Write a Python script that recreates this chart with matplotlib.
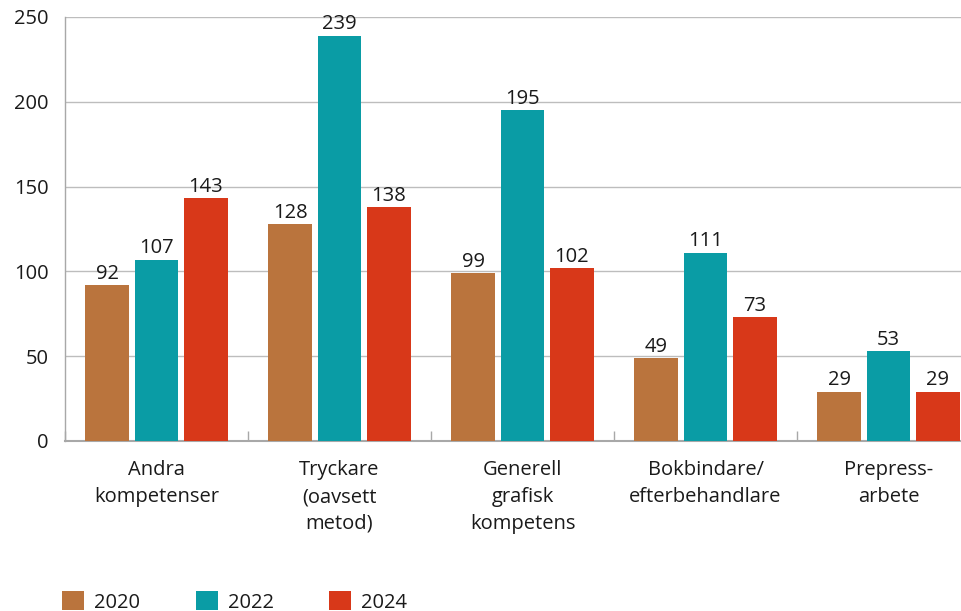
import matplotlib
matplotlib.use("Agg")
import matplotlib.pyplot as plt
import numpy as np

categories = ["Andra\nkompetenser", "Tryckare\n(oavsett\nmetod)", "Generell\ngrafisk\nkompetens",
              "Bokbindare/\nefterbehandlare", "Prepress-\narbete"]
years = ["2020", "2022", "2024"]
v2020 = [92, 128, 99, 49, 29]
v2022 = [107, 239, 195, 111, 53]
v2024 = [143, 138, 102, 73, 29]
colors = ["#BA743D", "#0A9CA5", "#D83819"]

plt.rcParams['font.family'] = ['Open Sans', 'DejaVu Sans']
txt = "#1a1a1a"
fs = 14.5

fig = plt.figure(figsize=(9.62, 6.11), dpi=100)
W, H = 962, 611
ax = fig.add_axes([65 / W, (H - 441) / H, (980 - 65) / W, (441 - 17) / H])

x = np.arange(len(categories))
step = 0.268
width = 0.24
for i, (vals, c, lab) in enumerate(zip([v2020, v2022, v2024], colors, years)):
    bars = ax.bar(x + (i - 1) * step, vals, width, color=c, label=lab, zorder=3)
    ax.bar_label(bars, padding=1, fontsize=fs, color=txt)

ax.set_xlim(-0.5, len(categories) - 0.5)
ax.set_ylim(0, 250)
ax.set_yticks(range(0, 251, 50))
ax.yaxis.grid(True, color="#BDBDBD", linewidth=1.0, zorder=0)
ax.tick_params(axis='y', length=0, pad=12, labelsize=fs, labelcolor=txt)
ax.set_xticks(x)
ax.set_xticklabels(categories, fontsize=fs, color=txt, linespacing=1.45)
ax.tick_params(axis='x', which='major', length=0, pad=14)
ax.set_xticks(np.arange(len(categories) + 1) - 0.5, minor=True)
ax.tick_params(axis='x', which='minor', direction='in', length=7, color="#A8A8A8", width=1)

for s in ["top", "right"]:
    ax.spines[s].set_visible(False)
ax.spines["left"].set_color("#A8A8A8")
ax.spines["left"].set_linewidth(1)
ax.spines["bottom"].set_color("#A8A8A8")
ax.spines["bottom"].set_linewidth(1.5)

fig.legend(loc="upper left", bbox_to_anchor=(54 / W, 1 - 583 / H), ncol=3, frameon=False,
           fontsize=fs, handlelength=1.1, handleheight=1.1, handletextpad=0.5,
           columnspacing=2.75, labelcolor=txt, borderaxespad=0)

fig.savefig("out.png", dpi=100)
